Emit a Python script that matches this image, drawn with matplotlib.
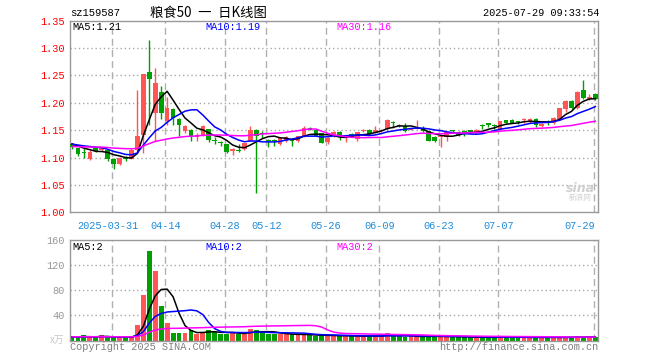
import matplotlib
matplotlib.use("Agg")
import matplotlib.pyplot as plt
import numpy as np

# ---------------- data ----------------
symbol = "sz159587"
title_cn = "粮食50 一 日K线图"
timestamp = "2025-07-29 09:33:54"

opens = [1.124, 1.117, 1.110, 1.098, 1.117, 1.114, 1.113, 1.098, 1.089, 1.099,
         1.098, 1.113, 1.142, 1.257, 1.182, 1.220, 1.166, 1.188, 1.170, 1.148,
         1.150, 1.137, 1.141, 1.152, 1.132, 1.127, 1.124, 1.112, 1.113, 1.115,
         1.131, 1.151, 1.144, 1.132, 1.132, 1.125, 1.131, 1.134, 1.130, 1.138,
         1.154, 1.151, 1.144, 1.128, 1.140, 1.147, 1.136, 1.143, 1.134, 1.148,
         1.151, 1.145, 1.148, 1.152, 1.165, 1.159, 1.158, 1.151, 1.153, 1.154,
         1.148, 1.138, 1.137, 1.137, 1.149, 1.147, 1.149, 1.150, 1.145, 1.158,
         1.163, 1.159, 1.151, 1.168, 1.169, 1.166, 1.168, 1.165, 1.171, 1.157,
         1.165, 1.163, 1.170, 1.188, 1.204, 1.190, 1.224, 1.207, 1.217]
closes = [1.119, 1.106, 1.109, 1.111, 1.112, 1.117, 1.098, 1.088, 1.100, 1.097,
          1.113, 1.140, 1.253, 1.244, 1.236, 1.182, 1.190, 1.172, 1.160, 1.157,
          1.137, 1.142, 1.157, 1.132, 1.131, 1.126, 1.111, 1.115, 1.112, 1.126,
          1.151, 1.140, 1.143, 1.131, 1.131, 1.135, 1.137, 1.130, 1.139, 1.154,
          1.151, 1.140, 1.127, 1.136, 1.147, 1.137, 1.137, 1.138, 1.146, 1.151,
          1.143, 1.151, 1.151, 1.168, 1.163, 1.157, 1.148, 1.153, 1.154, 1.148,
          1.131, 1.131, 1.139, 1.146, 1.148, 1.142, 1.145, 1.146, 1.150, 1.157,
          1.160, 1.158, 1.166, 1.163, 1.164, 1.165, 1.169, 1.171, 1.160, 1.162,
          1.164, 1.173, 1.190, 1.204, 1.191, 1.220, 1.209, 1.211, 1.207]
highs = [1.126, 1.118, 1.117, 1.113, 1.119, 1.119, 1.116, 1.100, 1.101, 1.103,
         1.115, 1.224, 1.253, 1.314, 1.264, 1.230, 1.210, 1.190, 1.172, 1.160,
         1.152, 1.145, 1.160, 1.153, 1.137, 1.131, 1.125, 1.117, 1.125, 1.127,
         1.157, 1.152, 1.149, 1.134, 1.134, 1.136, 1.140, 1.135, 1.140, 1.157,
         1.156, 1.152, 1.145, 1.137, 1.148, 1.148, 1.140, 1.145, 1.147, 1.152,
         1.152, 1.157, 1.152, 1.171, 1.166, 1.161, 1.163, 1.154, 1.168, 1.158,
         1.149, 1.139, 1.140, 1.147, 1.150, 1.148, 1.150, 1.151, 1.152, 1.162,
         1.164, 1.162, 1.167, 1.169, 1.170, 1.167, 1.172, 1.173, 1.172, 1.163,
         1.169, 1.174, 1.191, 1.205, 1.206, 1.222, 1.242, 1.216, 1.218]
lows = [1.116, 1.102, 1.100, 1.096, 1.110, 1.112, 1.093, 1.080, 1.087, 1.094,
        1.097, 1.108, 1.108, 1.160, 1.131, 1.171, 1.160, 1.159, 1.140, 1.145,
        1.130, 1.130, 1.140, 1.128, 1.125, 1.122, 1.109, 1.105, 1.111, 1.113,
        1.130, 1.035, 1.135, 1.119, 1.122, 1.123, 1.129, 1.122, 1.128, 1.137,
        1.150, 1.139, 1.126, 1.125, 1.137, 1.132, 1.128, 1.137, 1.131, 1.147,
        1.142, 1.144, 1.147, 1.150, 1.154, 1.155, 1.146, 1.150, 1.152, 1.147,
        1.130, 1.128, 1.120, 1.131, 1.144, 1.140, 1.140, 1.144, 1.143, 1.152,
        1.155, 1.152, 1.150, 1.161, 1.163, 1.161, 1.163, 1.164, 1.156, 1.155,
        1.160, 1.162, 1.168, 1.183, 1.188, 1.188, 1.207, 1.205, 1.206]
volumes = [5, 5, 9, 5, 5, 8, 5, 5, 5, 5,
           5, 25, 73, 143, 110, 55, 28, 12, 12, 12,
           16, 11, 13, 16, 14, 11, 11, 12, 11, 11,
           18, 16, 14, 11, 10, 10, 10, 10, 9, 9,
           9, 7, 8, 8, 8, 7, 7, 7, 7, 7,
           7, 7, 7, 12, 7, 7, 6, 7, 6, 6,
           7, 7, 6, 6, 6, 6, 5, 5, 5, 5,
           5, 5, 6, 5, 5, 5, 5, 5, 5, 5,
           5, 5, 5, 5, 5, 7, 5, 5, 5]
# estimated history before the first visible day (only feeds the moving averages)
prior_closes = [1.118, 1.120, 1.117, 1.115, 1.119, 1.121, 1.118, 1.116, 1.114, 1.117,
                1.120, 1.119, 1.116, 1.115, 1.118, 1.120, 1.122, 1.119, 1.117, 1.120,
                1.123, 1.125, 1.122, 1.124, 1.127, 1.126, 1.128, 1.125, 1.127]
prior_volumes = [6, 6, 5, 6, 7, 6, 5, 6, 6, 5, 6, 7, 6, 6, 5,
                 6, 6, 7, 6, 5, 6, 6, 6, 5, 6, 6, 7, 6, 6]

date_labels = ["2025-03-31", "04-14", "04-28", "05-12", "05-26",
               "06-09", "06-23", "07-07", "07-29"]
date_index = [7, 16, 26, 33, 43, 52, 62, 72, 88]

price_ticks = [1.00, 1.05, 1.10, 1.15, 1.20, 1.25, 1.30, 1.35]
vol_ticks = [40, 80, 120, 160]

ma_price_text = ["MA5:1.21", "MA10:1.19", "MA30:1.16"]
ma_vol_text = ["MA5:2", "MA10:2", "MA30:2"]

# ---------------- styling ----------------
RED = "#FF5555"
GREEN = "#00A000"
GRID = "#A8A8A8"
FRAME = "#999999"
MONO = ["Liberation Mono", "DejaVu Sans Mono"]
CJK = ["Noto Sans CJK SC", "DejaVu Sans"]
MA_COLORS = ["black", "#0000FF", "#FF00FF"]

W, H = 660, 360
fig = plt.figure(figsize=(6.6, 3.6), dpi=100)
fig.patch.set_facecolor("white")


def fx(px):
    return px / W


def fy(py):
    return 1 - py / H


L, R = 70, 598
ax = fig.add_axes([fx(L), fy(212.3), fx(R) - fx(L), fy(20.7) - fy(212.3)])
axv = fig.add_axes([fx(L), fy(340.5), fx(R) - fx(L), fy(240) - fy(340.5)])

o = np.array(opens)
c = np.array(closes)
h = np.array(highs)
lo = np.array(lows)
v = np.array(volumes, dtype=float)
n = len(c)
x = np.arange(n)
up = c >= o
cols = np.where(up, RED, GREEN)


def sma(prior, vals, k):
    full = np.concatenate([np.array(prior, dtype=float), np.array(vals, dtype=float)])
    p = len(prior)
    return np.array([full[p + i - k + 1:p + i + 1].mean() for i in range(len(vals))])


xmin, xmax = -0.34, 88.45
for a in (ax, axv):
    a.set_xlim(xmin, xmax)
    for s in a.spines.values():
        s.set_color(FRAME)
        s.set_linewidth(1.0)
    a.set_xticks([])
    a.tick_params(axis="y", length=0, pad=4)

ax.set_ylim(1.00, 1.35)
axv.set_ylim(0, 160)

# grid
ax.hlines(price_ticks[1:-1], xmin, xmax, colors=GRID, linestyles=(0, (1, 2)), lw=1, zorder=0)
axv.hlines(vol_ticks[:-1], xmin, xmax, colors=GRID, linestyles=(0, (1, 2)), lw=1, zorder=0)
dpos = np.array(date_index) - 0.3
ax.vlines(dpos, 1.00, 1.35, colors="#B0B0B0", linestyles=(0, (5, 3)), lw=1, zorder=0)
axv.vlines(dpos, 0, 160, colors="#B0B0B0", linestyles=(0, (5, 3)), lw=1, zorder=0)

# candles
body_w = 0.78
ax.vlines(x, lo, h, colors=cols, lw=1, zorder=2)
bottoms = np.minimum(o, c)
heights = np.maximum(np.abs(c - o), 0.0016)
ax.bar(x, heights, bottom=bottoms, width=body_w, color=cols, linewidth=0, zorder=3)

# price MAs
for k, col in zip([5, 10, 30], MA_COLORS):
    ax.plot(x, sma(prior_closes, closes, k), color=col, lw=1.1, zorder=4)

# volume bars
axv.bar(x, v, width=0.82, color=cols, linewidth=0, zorder=2)
for k, col in zip([5, 10, 30], MA_COLORS):
    axv.plot(x, sma(prior_volumes, volumes, k), color=col, lw=1.1, zorder=4)

# y tick labels
ax.set_yticks(price_ticks)
ax.set_yticklabels([f"{t:.2f}" for t in price_ticks], color="#FF0000",
                   fontsize=7.4, family=MONO)
axv.set_yticks(vol_ticks)
axv.set_yticklabels([str(t) for t in vol_ticks], color="#999999",
                    fontsize=7.4, family=MONO)

# date labels
xt = ax.get_xaxis_transform()
for lab, idx in zip(date_labels, dpos):
    if idx == dpos[-1]:
        ax.text(xmax - 0.5, -0.045, lab, transform=xt, ha="right", va="top",
                color="#1E8CD8", fontsize=7.4, family=MONO)
    else:
        ax.text(idx - 0.6 if idx == dpos[0] else idx, -0.045, lab, transform=xt,
                ha="center", va="top", color="#1E8CD8", fontsize=7.4, family=MONO)

# header texts
fig.text(fx(70), fy(12.5), symbol, ha="left", va="center", fontsize=7.6, family=MONO, color="black")
fig.text(fx(208), fy(12.5), title_cn.replace(" ", "\u2002"), ha="center", va="center",
         fontsize=9.6, family=CJK, color="black")
fig.text(fx(599), fy(12.5), timestamp, ha="right", va="center", fontsize=7.4, family=MONO, color="black")

for t, col, px in zip(ma_price_text, MA_COLORS, [72, 205, 336]):
    fig.text(fx(px), fy(27.5), t, ha="left", va="center", fontsize=7.4, family=MONO, color=col)
for t, col, px in zip(ma_vol_text, MA_COLORS, [72, 205, 336]):
    fig.text(fx(px), fy(246.5), t, ha="left", va="center", fontsize=7.4, family=MONO, color=col)

fig.text(fx(64), fy(340), "x万", ha="right", va="center", fontsize=7, family=CJK, color="#C8C8C8")
fig.text(fx(70), fy(347.5), "Copyright 2025 SINA.COM", ha="left", va="center",
         fontsize=7.4, family=MONO, color="#808080")
fig.text(fx(598), fy(347.5), "http://finance.sina.com.cn", ha="right", va="center",
         fontsize=7.4, family=MONO, color="#808080")

# sina watermark
fig.text(fx(580), fy(188), "sina", ha="center", va="center", fontsize=9, style="italic",
         weight="bold", color="#D0D0D0", family=["DejaVu Sans"])
fig.text(fx(580), fy(198), "新浪网", ha="center", va="center", fontsize=5.5,
         color="#D0D0D0", family=CJK)

fig.savefig("out.png", dpi=100)
